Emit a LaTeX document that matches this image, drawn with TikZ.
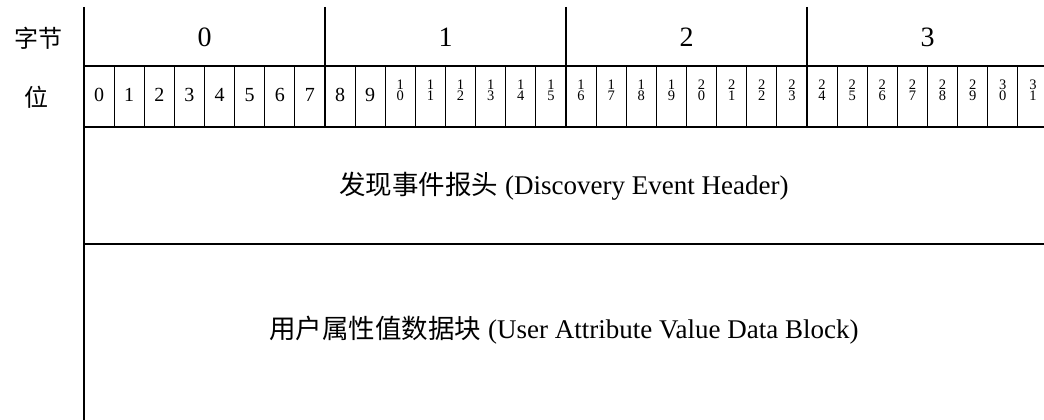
\documentclass[tikz,border=0pt]{standalone}
\usepackage{fontspec}
\setmainfont{Liberation Serif}
\newfontfamily\song{Noto Sans CJK SC}
\begin{document}
\begin{tikzpicture}[x=1pt,y=-1pt,
  thick line/.style={line width=2pt},
  thin line/.style={line width=1pt},
  bytelabel/.style={inner sep=0pt,font=\fontsize{28}{30}\selectfont},
  rowlabel/.style={inner sep=0pt,font=\fontsize{24}{30}\selectfont},
  bitone/.style={inner sep=0pt,font=\fontsize{20}{22}\selectfont},
  bitdig/.style={inner sep=0pt,text height=9.6pt,text depth=0pt,font=\fontsize{14.5}{15}\selectfont},
  maintext/.style={inner sep=0pt,font=\fontsize{27}{30}\selectfont}]
\useasboundingbox (0,0) rectangle (1044,420);
% bit separators
\foreach \k in {1,...,31}{
  \draw[thin line] ({84+30.125*\k},66) -- ({84+30.125*\k},127);
}
% byte separators
\foreach \k in {1,2,3}{
  \draw[thick line] ({84+241*\k},7) -- ({84+241*\k},127);
}
% horizontal lines
\draw[thick line] (84,66) -- (1044,66);
\draw[thick line] (84,127) -- (1044,127);
\draw[thick line] (84,244) -- (1044,244);
% left line
\draw[thick line] (84,7) -- (84,420);
% row labels
\node[rowlabel] (lbyte) at (38,38) {\song 字节};
\node[rowlabel] (lbit) at (36,97) {\song 位};
% byte numbers
\foreach \k in {0,...,3}{
  \node[bytelabel] (byte\k) at ({84+241*\k+120.5},37) {\k};
}
% bit numbers
\foreach \k in {0,...,9}{
  \node[bitone] (bit\k) at ({84+30.125*\k+15.06},95) {\k};
}
\foreach \k/\a/\b in {10/1/0,11/1/1,12/1/2,13/1/3,14/1/4,15/1/5,16/1/6,17/1/7,18/1/8,19/1/9,20/2/0,21/2/1,22/2/2,23/2/3,24/2/4,25/2/5,26/2/6,27/2/7,28/2/8,29/2/9,30/3/0,31/3/1}{
  \node[bitdig] (bit\k a) at ({84+30.125*\k+15.06},84.6) {\a};
  \node[bitdig] (bit\k b) at ({84+30.125*\k+15.06},95.4) {\b};
}
% fields
\node[maintext] (hdr) at (564,186) {{\fontsize{26.5}{30}\selectfont\song 发现事件报头} (Discovery Event Header)};
\node[maintext] (data) at (564,330) {{\fontsize{26.5}{30}\selectfont\song 用户属性值数据块} (User Attribute Value Data Block)};
\end{tikzpicture}
\end{document}
